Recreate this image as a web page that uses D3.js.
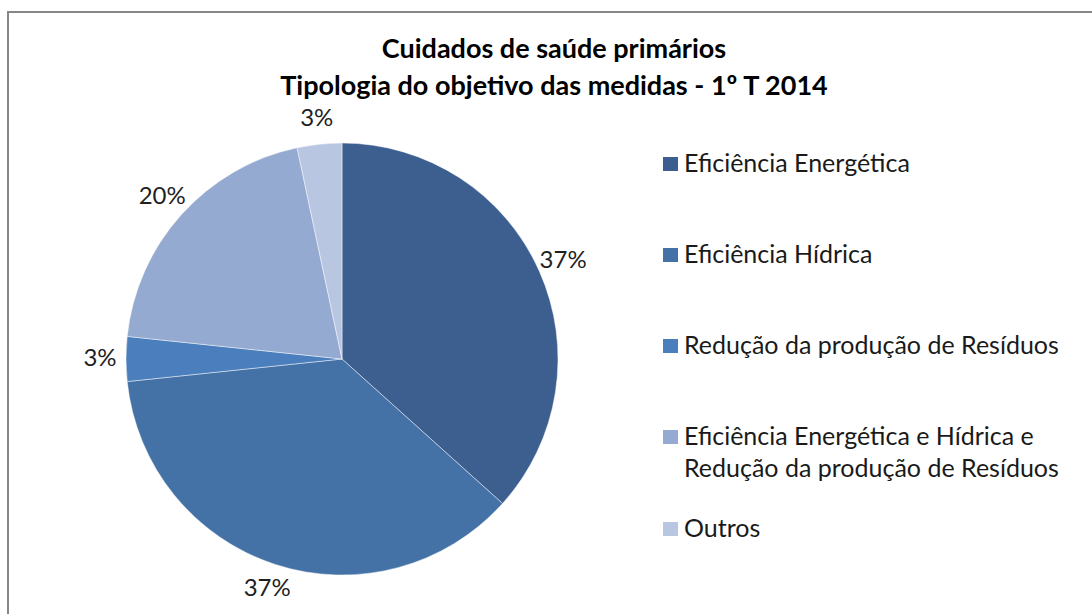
<!DOCTYPE html>
<html>
<head>
<meta charset="utf-8">
<script src="https://cdn.jsdelivr.net/npm/d3@7"></script>
<style>
  html, body { margin: 0; padding: 0; background: #fff; }
  svg { display: block; font-family: Lato, "Open Sans", sans-serif; }
</style>
</head>
<body>
<div id="chart"></div>
<script>
// categorias e valores (numero de medidas)
const categories = [
    "Eficiência Energética",
    "Eficiência Hídrica",
    "Redução da produção de Resíduos",
    "Eficiência Energética e Hídrica e Redução da produção de Resíduos",
    "Outros"
];
const values = [11, 11, 1, 6, 1];
const legendLines = [
    ["Eficiência Energética"],
    ["Eficiência Hídrica"],
    ["Redução da produção de Resíduos"],
    ["Eficiência Energética e Hídrica e", "Redução da produção de Resíduos"],
    ["Outros"]
];
const titleLines = ["Cuidados de saúde primários", "Tipologia do objetivo das medidas - 1º T 2014"];

const colors = ["#3c5f8f", "#4472a7", "#4a7ebc", "#94aad0", "#b8c6e2"];

const width = 1092, height = 614;
const cx = 342, cy = 359, radius = 216;

const data = categories.map((c, i) => ({ name: c, value: values[i] }));
const total = d3.sum(values);

const svg = d3.select("#chart").append("svg")
    .attr("width", width)
    .attr("height", height);

// moldura do grafico
svg.append("rect")
    .attr("x", 8)
    .attr("y", 12)
    .attr("width", width)
    .attr("height", height)
    .attr("fill", "#fff")
    .attr("stroke", "#878787")
    .attr("stroke-width", 2);

// titulo
svg.append("g")
    .attr("text-anchor", "middle")
    .attr("font-weight", "bold")
    .attr("font-size", 27)
    .attr("fill", "#000")
  .selectAll("text")
  .data(titleLines)
  .join("text")
    .attr("x", 554)
    .attr("y", (d, i) => 58 + i * 37)
    .text(d => d);

const color = d3.scaleOrdinal()
    .domain(categories)
    .range(colors);

const pie = d3.pie()
    .sort(null)
    .value(d => d.value);

const arc = d3.arc()
    .innerRadius(0)
    .outerRadius(radius);

const labelArc = d3.arc()
    .innerRadius(radius + 26)
    .outerRadius(radius + 26);

const arcs = pie(data);

const g = svg.append("g")
    .attr("transform", `translate(${cx},${cy})`);

g.append("g")
    .attr("stroke", "#fff")
    .attr("stroke-opacity", 0.45)
    .attr("stroke-width", 1)
  .selectAll("path")
  .data(arcs)
  .join("path")
    .attr("fill", d => color(d.data.name))
    .attr("d", arc);

// rotulos de percentagem
g.append("g")
    .attr("text-anchor", "middle")
    .attr("font-size", 24)
    .attr("fill", "#1f1f1f")
  .selectAll("text")
  .data(arcs)
  .join("text")
    .attr("transform", d => `translate(${labelArc.centroid(d)})`)
    .attr("dy", "0.3em")
    .text(d => Math.round(d.data.value / total * 100) + "%");

// legenda
const legend = svg.append("g")
    .attr("transform", "translate(663,0)");

const itemY = [172, 263, 354, 445, 537];

const item = legend.selectAll("g")
  .data(categories)
  .join("g")
    .attr("transform", (d, i) => `translate(0,${itemY[i]})`);

item.append("rect")
    .attr("x", 0)
    .attr("y", -15)
    .attr("width", 15)
    .attr("height", 14)
    .attr("fill", d => color(d));

item.append("text")
    .attr("x", 21)
    .attr("font-size", 25)
    .attr("fill", "#1a1a1a")
  .selectAll("tspan")
  .data((d, i) => legendLines[i])
  .join("tspan")
    .attr("x", 21)
    .attr("y", (d, i) => i * 32)
    .text(d => d);
</script>
</body>
</html>
